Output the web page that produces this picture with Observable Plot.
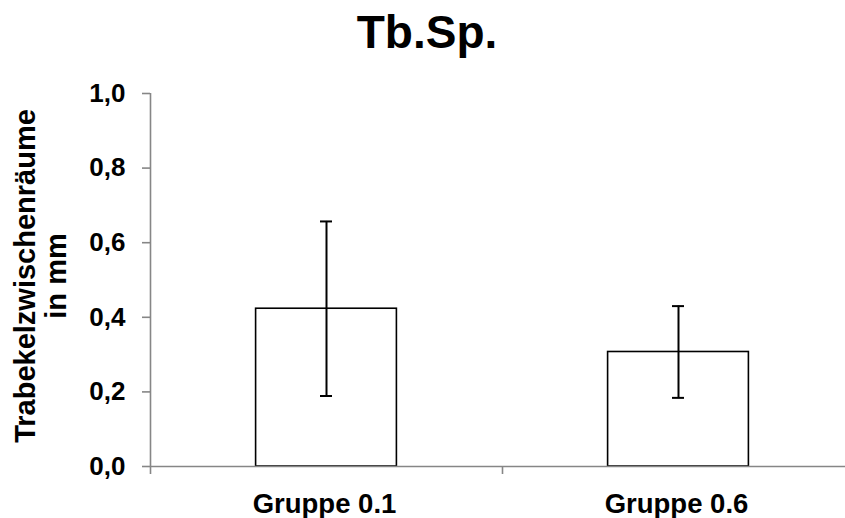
<!DOCTYPE html>
<html>
<head>
<meta charset="utf-8">
<script src="https://cdn.jsdelivr.net/npm/d3@7"></script>
<script src="https://cdn.jsdelivr.net/npm/@observablehq/plot@0.6"></script>
<style>
  html, body { margin: 0; padding: 0; background: #fff; }
  #wrap { position: relative; width: 845px; height: 518px; overflow: hidden; font-family: "Liberation Sans", Arial, sans-serif; }
  #title { position: absolute; left: 0; top: 9px; width: 854px; text-align: center; font-size: 46px; font-weight: bold; line-height: 1; color: #000; }
  #chart { position: absolute; left: 0; top: 0; }
</style>
</head>
<body>
<div id="wrap">
  <div id="chart"></div>
  <div id="title">Tb.Sp.</div>
</div>
<script>
const groups = ["Gruppe 0.1", "Gruppe 0.6"];
const means = [0.423, 0.307];
const errors = [0.234, 0.123];
const yTicks = [0, 0.2, 0.4, 0.6, 0.8, 1.0];
const yLabel = "Trabekelzwischenräume\nin mm";
const title = "Tb.Sp.";

const data = groups.map((g, i) => ({group: g, c: i + 0.5, mean: means[i], err: errors[i]}));
const fmt = d => d3.format(".1f")(d).replace(".", ",");
const gray = "#868686";

const chart = Plot.plot({
  width: 845,
  height: 518,
  marginTop: 93,
  marginBottom: 52,
  marginLeft: 150,
  marginRight: 0,
  style: {fontFamily: '"Liberation Sans", Arial, sans-serif', background: "transparent"},
  x: {domain: [0, groups.length], range: [150, 854], axis: null},
  y: {domain: [0, 1], range: [466, 93], axis: null},
  marks: [
    Plot.rectY(data, {x1: d => d.c - 0.2, x2: d => d.c + 0.2, y: "mean", fill: "white", stroke: "black", strokeWidth: 1.6}),
    Plot.ruleX([0], {y1: 0, y2: 1, stroke: gray, strokeWidth: 1.6}),
    Plot.ruleY([0], {x1: 0, x2: groups.length, stroke: gray, strokeWidth: 1.6}),
    Plot.axisY({ticks: yTicks, tickSize: 8, stroke: gray, strokeWidth: 1.6, tickFormat: () => "", label: null}),
    Plot.axisY({ticks: yTicks, tickSize: 0, tickPadding: 25, tickFormat: fmt, fill: "black", fontSize: 26, fontWeight: "bold", label: null}),
    Plot.axisX({ticks: d3.range(groups.length + 1), tickSize: 8, stroke: gray, strokeWidth: 1.6, tickFormat: () => "", label: null}),
    Plot.axisX({ticks: data.map(d => d.c), tickSize: 0, tickPadding: 27, dx: -2, tickFormat: (d, i) => groups[i], fill: "black", fontSize: 27.5, fontWeight: "bold", label: null}),
    Plot.ruleX(data, {x: "c", y1: d => d.mean - d.err, y2: d => d.mean + d.err, stroke: "black", strokeWidth: 2}),
    Plot.ruleY(data, {y: d => d.mean + d.err, x1: d => d.c - 0.017, x2: d => d.c + 0.017, stroke: "black", strokeWidth: 2}),
    Plot.ruleY(data, {y: d => d.mean - d.err, x1: d => d.c - 0.017, x2: d => d.c + 0.017, stroke: "black", strokeWidth: 2}),
    Plot.text([yLabel], {frameAnchor: "left", rotate: -90, dx: -110, dy: -4, fontSize: 29, fontWeight: "bold", fill: "black", lineHeight: 1.08, textAnchor: "middle"})
  ]
});
document.getElementById("chart").appendChild(chart);
document.getElementById("title").textContent = title;
</script>
</body>
</html>
